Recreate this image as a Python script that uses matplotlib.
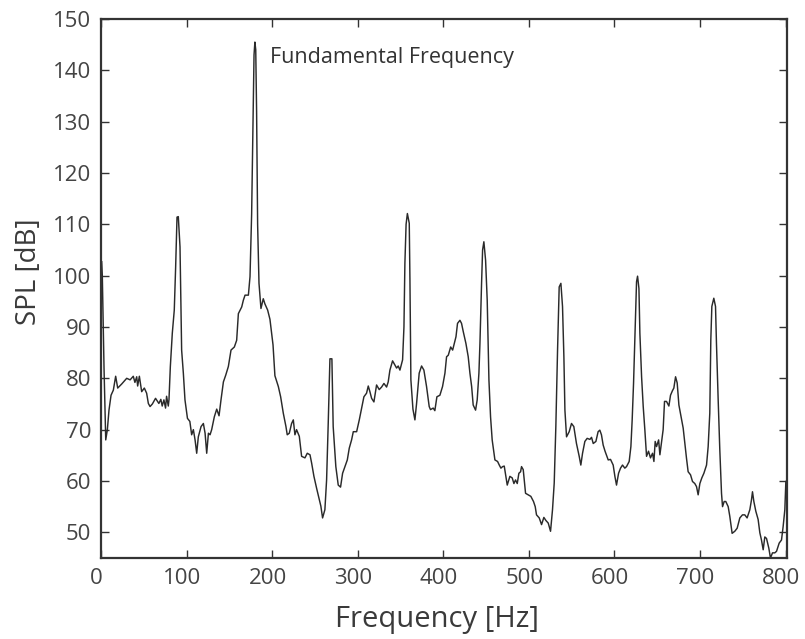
import matplotlib
matplotlib.use("Agg")
import matplotlib.pyplot as plt
import matplotlib.transforms as mtransforms

# spectrum
freq = [0.8, 1.5, 3.5, 5.5, 7.4, 9.3, 11.7, 14.4, 17.1, 19.5, 24.2, 30, 34, 37.7, 39.6, 41.7, 42.8, 44.8,
        47.5, 50.6, 53.3, 55.3, 57.3, 60, 63.7, 67.6, 69.9, 71.5, 73.5, 75.4, 76.6, 78.6, 79.4, 81, 83.3,
        85.6, 87.2, 88.8, 90.3, 92.3, 94.2, 96.2, 98.1, 101, 103.8, 105.9, 107.9, 109.9, 111.8, 113.7,
        116.9, 119.6, 121.6, 123.5, 125.5, 127.4, 129.3, 132.4, 135.2, 137.9, 140.2, 143, 145.7, 148.8,
        151.9, 155.8, 158.5, 160.5, 164.4, 166.3, 168.3, 172.2, 174.1, 176, 177.5, 178.8, 179.8, 180.8,
        181.8, 183, 184.6, 186.9, 189.6, 191.5, 194.7, 197.4, 201, 203.2, 207.2, 209.9, 213, 216.1, 217.6,
        220, 222.7, 224.7, 226.6, 228.5, 231.7, 234.4, 238.3, 241, 244.2, 246.1, 248.8, 251.9, 255, 256.9,
        258.9, 261.6, 263.6, 265.5, 267.5, 269.8, 271.3, 274.4, 277.2, 279.9, 282.3, 285, 287.8, 290.1,
        292.8, 294.8, 298.7, 301.8, 304.5, 307.2, 310.3, 312.3, 314.2, 316.2, 318.9, 322, 325.1, 327.9,
        330.6, 333.7, 335.6, 337.6, 340.7, 343.4, 345.4, 347.3, 349.3, 352.4, 354, 355.1, 356.5, 358,
        360.2, 361, 362.1, 364.5, 366.8, 368.7, 371.8, 374.6, 377.3, 380.4, 383.5, 385, 388.2, 390.1,
        392.5, 396, 399.1, 401.9, 403.8, 405.8, 408.6, 410.9, 412.5, 414.8, 416.6, 419.4, 421.3, 423.3,
        426.4, 429.1, 431.1, 433.1, 434.9, 437.7, 439.6, 441.6, 442.8, 444.7, 445.9, 447.4, 449.4, 451.3,
        453.3, 455.2, 457.1, 460.3, 463.4, 465.4, 467.3, 469.3, 471.2, 473.1, 474.7, 477.8, 480.5, 482.5,
        484.4, 486.4, 488.3, 490.3, 491.4, 493.4, 496.1, 499.2, 502.3, 505.4, 507.4, 508.9, 512.1, 514.8,
        517.5, 519.9, 522.6, 525.3, 527.6, 529.6, 531.5, 533.5, 535.4, 537.4, 539.3, 540.9, 542.1, 544,
        547.1, 549.8, 552.5, 555.6, 558.8, 560.7, 562.7, 565.4, 568.1, 571.3, 573.2, 575.2, 578.3, 580.9,
        582.9, 584.8, 586.8, 589, 590.5, 592.7, 595.4, 598.5, 600.5, 602.4, 604.8, 607.1, 609.4, 612.1,
        614.1, 617.2, 619.2, 620.7, 622.3, 624.3, 625.8, 627, 628.6, 629.7, 631.7, 633.6, 635.5, 637.5,
        639.8, 642.1, 644.5, 646.1, 647.6, 649.2, 651.6, 653.1, 655.4, 656.9, 658.5, 660.8, 663.6, 665.5,
        667.8, 669.4, 671.4, 673.3, 675.3, 677.2, 680.3, 682.3, 684.2, 686.1, 688.9, 691.2, 693.9, 695.9,
        697.8, 699.8, 702.1, 704.5, 707.6, 709.5, 711.4, 712.6, 713.8, 716.1, 718.1, 719.2, 721.2, 723.1,
        725.1, 726.3, 728.2, 730.1, 732.9, 734.8, 737.5, 740.6, 743.4, 746.5, 749.6, 752.3, 755, 758.2,
        760.1, 761.3, 762.9, 765.2, 767.9, 769.9, 771.8, 773.8, 775.7, 777.7, 780.4, 782.3, 784.7, 787.4,
        789.4, 792.5, 795.2, 797.1, 799.1, 800.3]
spl = [102.7, 100, 82, 68.0, 70.0, 73.8, 76.7, 77.7, 80.4, 78.1, 78.9, 80.0, 79.7, 80.4, 79.2, 80.3, 78.5, 80.4,
       77.4, 78.1, 77.1, 75.1, 74.5, 75.0, 76.1, 75.1, 75.9, 74.6, 75.8, 74.2, 76.5, 74.6, 75.8, 82.3, 88.8,
       93.3, 101.7, 111.4, 111.5, 105.6, 85.5, 81, 75.8, 72.2, 71.6, 69, 70, 68, 65.4, 68.6,
       70.6, 71.2, 69.3, 65.4, 69.3, 69, 70, 72.5, 74, 72.7, 75.8, 79.3, 80.6, 82.3,
       85.5, 86.1, 87.4, 92.6, 93.9, 95.2, 96.2, 96.2, 99.8, 112, 128, 143, 145.5, 144,
       132, 110, 98.5, 93.6, 95.5, 94.5, 93.3, 91.5, 86.5, 80.5, 78.4, 76.4, 73.2, 70.6, 69.0,
       69.3, 71.2, 71.9, 69, 70, 68.7, 64.8, 64.5, 65.4, 65.1, 63.5, 60.9, 58.6, 56.4, 55.1,
       52.8, 54.4, 60.2, 71.2, 83.8, 83.8, 70.6, 62.8, 59.2, 58.8, 61.5, 62.8, 64.1, 66.4,
       68, 69.6, 69.6, 71.9, 74.2, 76.4, 77.1, 78.5, 77.4, 76.1, 75.4, 78.7, 77.8, 78.3,
       79.0, 78.3, 79.3, 81.6, 83.4, 82.6, 82, 82.4, 81.6, 83.6, 90.0, 102.4, 110, 112.1,
       110.2, 99.1, 79.7, 74, 71.9, 75.0, 81.0, 82.4, 81.6, 78.4, 74.5, 73.9, 74.2, 73.7,
       76.4, 76.7, 78.4, 81.0, 84.2, 84.5, 86.1, 85.5, 86.6, 88.1, 90.7, 91.3, 90.7, 89.1,
       86.8, 84.2, 81.0, 78.4, 74.8, 73.8, 75.8, 81.0, 86.8, 98.5, 105, 106.6, 103, 95.2,
       79.7, 72.5, 68.0, 64.1, 63.8, 63.1, 62.5, 62.8, 62.9, 60.9, 59.2, 60.9, 60.6, 59.5,
       60.2, 59.5, 61.5, 61.8, 62.8, 62.2, 57.6, 57.3, 57.0, 56, 55.0, 53.4, 52.8, 51.5,
       52.9, 52.3, 51.8, 50.2, 54.4, 59.6, 70.6, 85.5, 97.8, 98.5, 94.0, 84.2, 73.8, 68.6,
       69.6, 71.2, 70.6, 67.3, 64.8, 63.1, 65.4, 67.7, 68.3, 68.1, 68.5, 67.3, 67.7, 69.6,
       69.9, 69.0, 67.0, 65.8, 65.1, 64.1, 64.2, 63.1, 60.9, 59.2, 61.5, 62.5, 63.1, 62.5,
       62.8, 63.8, 66.7, 71.9, 79.0, 90.0, 98.8, 99.9, 97.5, 88.8, 80.3, 74.5, 70.0, 64.8,
       65.8, 64.5, 65.4, 63.8, 67.7, 66.7, 68, 65.1, 68, 70.0, 75.5, 75.5, 74.6, 76.7,
       77.6, 78.1, 80.3, 79.1, 74.8, 73.1, 70.3, 67.3, 64.4, 61.8, 61.2, 59.9, 59.5, 58.9,
       57.3, 59.5, 60.6, 61.5, 63.1, 66.7, 73.2, 87.5, 94.0, 95.6, 94.0, 86.8, 75.8, 66.1,
       57.6, 55, 56, 56, 55, 53.1, 49.8, 50.2, 50.8, 52.8, 53.4, 53.4, 52.8, 54.4,
       56.3, 57.9, 56, 54.1, 52.5, 49.9, 48.5, 46.6, 49.1, 48.8, 46.9, 45, 46, 46,
       46.3, 47.9, 48.5, 51.1, 54.4, 59.9]

x_ticks = [0, 100, 200, 300, 400, 500, 600, 700, 800]
y_ticks = [50, 60, 70, 80, 90, 100, 110, 120, 130, 140, 150]

dark = '#333333'
plt.rcParams['font.family'] = ['Open Sans', 'DejaVu Sans']

fig = plt.figure(figsize=(8.05, 6.39), dpi=100)
ax = fig.add_axes([0.1255, 0.1268, 0.852, 0.8435])

ax.plot(freq, spl, color='#2a2a2a', linewidth=1.05)
ax.set_xlim(0, 801.5)
ax.set_ylim(45, 150)
ax.set_xticks(x_ticks)
ax.set_yticks(y_ticks)

ax.tick_params(direction='in', top=True, right=True, length=6, width=1.0,
               color=dark, labelcolor='#444444', labelsize=16, pad=7)
for s in ax.spines.values():
    s.set_linewidth(1.6)
    s.set_color(dark)

# x tick labels sit a little left of their ticks in the original
shift = mtransforms.ScaledTranslation(-4.5 / 100, 0, fig.dpi_scale_trans)
for lab in ax.get_xticklabels():
    lab.set_transform(lab.get_transform() + shift)

ax.set_xlabel('Frequency [Hz]', fontsize=21, color='#3a3a3a', va='center')
ax.xaxis.set_label_coords(0.49, -0.115)
ax.set_ylabel('SPL [dB]', fontsize=20, color='#3a3a3a', va='center')
ax.yaxis.set_label_coords(-0.105, 0.531)

ax.text(198, 141.5, 'Fundamental Frequency', fontsize=15.5, color=dark,
        ha='left', va='baseline')

fig.savefig('out.png', dpi=100)
